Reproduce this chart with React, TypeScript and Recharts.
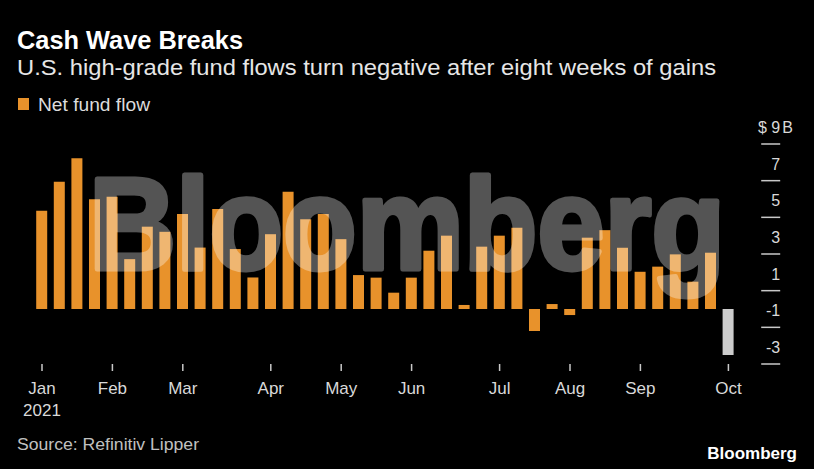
import React from 'react';
import { BarChart, Bar, XAxis, YAxis, Cell } from 'recharts';

const weeks = [
  '2021-01-06', '2021-01-13', '2021-01-20', '2021-01-27',
  '2021-02-03', '2021-02-10', '2021-02-17', '2021-02-24',
  '2021-03-03', '2021-03-10', '2021-03-17', '2021-03-24', '2021-03-31',
  '2021-04-07', '2021-04-14', '2021-04-21', '2021-04-28',
  '2021-05-05', '2021-05-12', '2021-05-19', '2021-05-26',
  '2021-06-02', '2021-06-09', '2021-06-16', '2021-06-23', '2021-06-30',
  '2021-07-07', '2021-07-14', '2021-07-21', '2021-07-28',
  '2021-08-04', '2021-08-11', '2021-08-18', '2021-08-25',
  '2021-09-01', '2021-09-08', '2021-09-15', '2021-09-22', '2021-09-29',
  '2021-10-06',
];

const netFlow = [
  5.36, 6.94, 8.22, 5.98,
  6.12, 2.72, 4.49, 4.21,
  5.18, 3.35, 5.45, 3.27, 1.72,
  4.08, 6.39, 4.9, 5.18,
  3.81, 1.85, 1.71, 0.89,
  1.71, 3.18, 4.0, 0.22, 3.4,
  4.0, 4.43, -1.2, 0.27,
  -0.33, 3.89, 4.3, 3.34,
  2.03, 2.31, 2.98, 1.49, 3.07,
  -2.51,
];

const monthTickWeeks = [
  '2021-01-06', '2021-02-03', '2021-03-03', '2021-04-07', '2021-05-05',
  '2021-06-02', '2021-07-07', '2021-08-04', '2021-09-01', '2021-10-06',
];
const monthLabels = ['Jan', 'Feb', 'Mar', 'Apr', 'May', 'Jun', 'Jul', 'Aug', 'Sep', 'Oct'];
const yearLabel = '2021';
const yTicks = [9, 7, 5, 3, 1, -1, -3];

const ORANGE = '#E8922B';
const LATEST = '#CCCCCC';
const FONT = '"Liberation Sans", Arial, sans-serif';

const data = weeks.map((w, i) => ({ week: w, flow: netFlow[i] }));

const MonthTick = (props: any) => {
  const { x, y, payload } = props;
  const idx = monthTickWeeks.indexOf(payload.value);
  const label = idx >= 0 ? monthLabels[idx] : '';
  return (
    <g>
      <text x={x} y={y + 21} textAnchor="middle" fill="#d9d9d9" fontSize={17} fontFamily={FONT}>
        {label}
      </text>
      {idx === 0 && (
        <text x={x} y={y + 43} textAnchor="middle" fill="#d9d9d9" fontSize={17} fontFamily={FONT}>
          {yearLabel}
        </text>
      )}
    </g>
  );
};

const ValueTick = (props: any) => {
  const { x, y, payload } = props;
  const v = payload.value;
  const isTop = v === yTicks[0];
  return (
    <g>
      <line x1={x + 24} x2={x + 43} y1={y} y2={y} stroke="#c8c8c8" strokeWidth={1.5} />
      <text x={x + 43} y={y - 11} textAnchor="end" fill="#d9d9d9" fontSize={16} fontFamily={FONT}>
        {isTop ? `$ ${v}` : `${v}`}
        {isTop && (
          <tspan x={x + 45} textAnchor="start">
            B
          </tspan>
        )}
      </text>
    </g>
  );
};

export default function App() {
  return (
    <div
      style={{
        position: 'absolute',
        left: 0,
        top: 0,
        width: 814,
        height: 469,
        background: '#000',
        overflow: 'hidden',
      }}
    >
      <BarChart
        width={814}
        height={469}
        data={data}
        margin={{ top: 144, right: 16.8, left: 33.2, bottom: 0 }}
        barCategoryGap={0}
      >
        <XAxis
          dataKey="week"
          ticks={monthTickWeeks}
          interval={0}
          axisLine={false}
          tickLine={{ stroke: '#c8c8c8', strokeWidth: 1.5 }}
          tickSize={7}
          height={105}
          tick={<MonthTick />}
        />
        <YAxis
          orientation="right"
          domain={[-3, 9]}
          ticks={yTicks}
          interval={0}
          allowDataOverflow
          axisLine={false}
          tickLine={false}
          tickSize={0}
          tickMargin={0}
          width={60}
          tick={<ValueTick />}
        />
        <Bar dataKey="flow" barSize={11} isAnimationActive={false}>
          {data.map((d, i) => (
            <Cell key={d.week} fill={i === data.length - 1 ? LATEST : ORANGE} />
          ))}
        </Bar>
      </BarChart>
      <svg
        width={814}
        height={469}
        style={{ position: 'absolute', left: 0, top: 0, pointerEvents: 'none' }}
      >
        <text x={17} y={49} fill="#fff" fontSize={25} fontWeight="bold" fontFamily={FONT} textLength={226} lengthAdjust="spacingAndGlyphs">
          Cash Wave Breaks
        </text>
        <text x={17} y={75} fill="#e6e6e6" fontSize={22} fontFamily={FONT} textLength={699} lengthAdjust="spacingAndGlyphs">
          U.S. high-grade fund flows turn negative after eight weeks of gains
        </text>
        <rect x={18} y={98} width={11} height={12} fill={ORANGE} />
        <text x={38} y={111} fill="#dcdcdc" fontSize={18} fontFamily={FONT} textLength={112} lengthAdjust="spacingAndGlyphs">
          Net fund flow
        </text>
        <g opacity={0.33}>
          <text
            x={89}
            y={269}
            fill="#fff"
            stroke="#fff"
            strokeWidth={5}
            strokeLinejoin="round"
            fontSize={130}
            fontWeight="bold"
            fontFamily={FONT}
            textLength={636}
            lengthAdjust="spacingAndGlyphs"
          >
            Bloomberg
          </text>
        </g>
        <text x={17} y={450} fill="#c0c0c0" fontSize={16} fontFamily={FONT} textLength={182} lengthAdjust="spacingAndGlyphs">
          Source: Refinitiv Lipper
        </text>
        <text x={797} y={459} textAnchor="end" fill="#fff" fontSize={17} fontWeight="bold" fontFamily={FONT}>
          Bloomberg
        </text>
      </svg>
    </div>
  );
}
